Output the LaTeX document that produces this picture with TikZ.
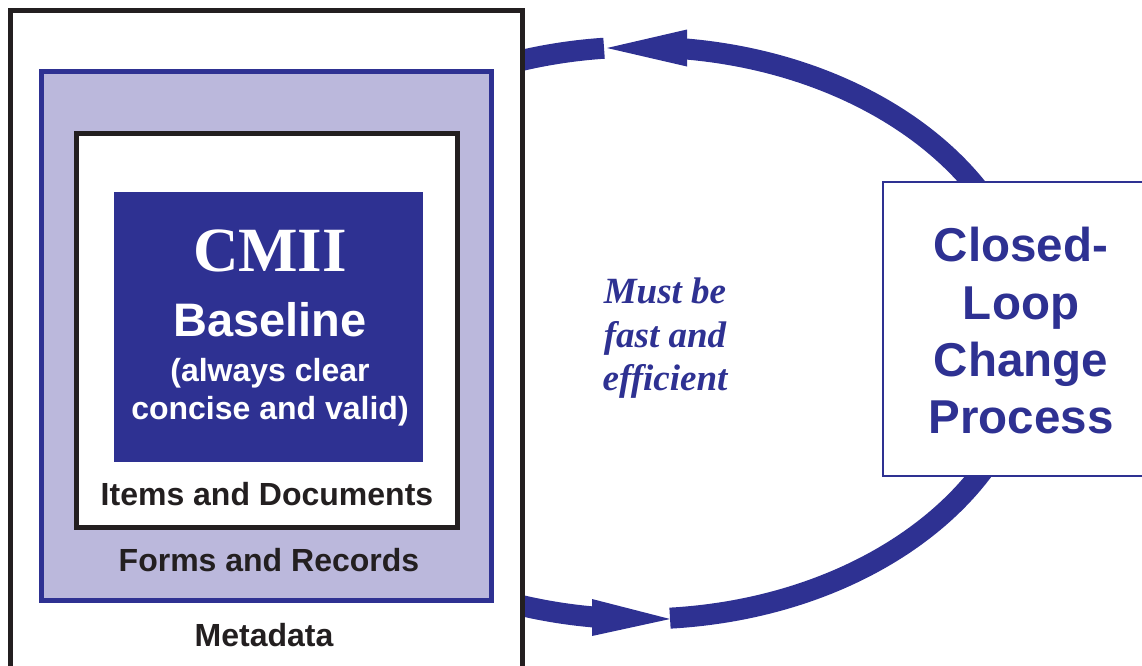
\documentclass[tikz,border=0pt]{standalone}
\usepackage{fontspec}
\setmainfont{Liberation Serif}
\setsansfont{Liberation Sans}
\usetikzlibrary{calc}
\definecolor{cmblue}{HTML}{2E3192}
\definecolor{lav}{HTML}{BBB8DC}
\definecolor{ink}{HTML}{231F20}
\begin{document}
\begin{tikzpicture}[x=1pt,y=-1pt,
  frame/.style={draw=#1,line width=5pt,inner sep=0pt,outer sep=0pt},
  loopline/.style={draw=cmblue,line width=21pt},
  headfill/.style={fill=cmblue},
  sanslbl/.style={font=\sffamily\bfseries\fontsize{32}{38}\selectfont,inner sep=0pt,anchor=base},
  whitelbl/.style={sanslbl,text=white},
  inklbl/.style={sanslbl,text=ink}]
\useasboundingbox (0,0) rectangle (1142,665);
\clip (0,0) rectangle (1142,665);
% closed loop (ellipse centre c, radii 391 x 286)
\coordinate (c) at (640,333);
% bottom shaft: from behind the left box to the lower arrowhead
\draw[loopline] ($(c)+(-115:391pt and 286pt)$)
  arc[start angle=-115,end angle=-96,x radius=391pt,y radius=286pt];
% lower arrowhead (points right)
\coordinate (btip) at (670,619);
\coordinate (bback1) at (592,599);
\coordinate (bback2) at (592,636);
\fill[headfill] (btip) -- (bback1) -- (bback2) -- cycle;
% right-hand shaft: from the lower tip round to the upper arrowhead
\draw[loopline] ($(c)+(-85.6:391pt and 286pt)$)
  arc[start angle=-85.6,end angle=84,x radius=391pt,y radius=286pt];
% upper arrowhead (points left)
\coordinate (ttip) at (607,48);
\coordinate (tback1) at (687,29.5);
\coordinate (tback2) at (687,66.5);
\fill[headfill] (ttip) -- (tback1) -- (tback2) -- cycle;
% upper shaft: from the upper tip back into the left box
\draw[loopline] ($(c)+(95.28:391pt and 286pt)$)
  arc[start angle=95.28,end angle=115,x radius=391pt,y radius=286pt];
% left nested boxes
\node[frame=ink,fill=white,minimum width=512pt,minimum height=690pt] (meta) at (266,355.8) {};
\node[frame=cmblue,fill=lav,minimum width=450pt,minimum height=529pt] (forms) at (266,335.5) {};
\node[frame=ink,fill=white,minimum width=381.5pt,minimum height=394.5pt] (items) at (266.75,330.25) {};
\node[fill=cmblue,inner sep=0pt,minimum width=309pt,minimum height=270pt] (base) at (268.5,327) {};
\node[text=white,font=\bfseries\fontsize{63}{70}\selectfont,inner sep=0pt,anchor=base] (cmii) at (270,271) {CMII};
\node[text=white,font=\sffamily\bfseries\fontsize{47}{56}\selectfont,inner sep=0pt,anchor=base] (bl) at (270,336) {Baseline};
\node[whitelbl] (al1) at (270,381) {(always clear};
\node[whitelbl] (al2) at (270,419) {concise and valid)};
\node[inklbl] (itl) at (267,505) {Items and Documents};
\node[inklbl] (frl) at (269,571) {Forms and Records};
\node[inklbl] (mdl) at (264,646) {Metadata};
% right box
\node[draw=cmblue,line width=2.2pt,fill=white,inner sep=0pt,minimum width=277pt,minimum height=294pt] (clcp) at (1021.5,329) {};
\node[text=cmblue,font=\sffamily\bfseries\fontsize{47.5}{57.4}\selectfont,align=center,inner sep=0pt,anchor=north] (clt) at (1021,227) {Closed-\\Loop\\Change\\Process};
% middle text
\node[text=cmblue,font=\bfseries\itshape\fontsize{37}{43.5}\selectfont,align=center,inner sep=0pt,anchor=north] (fast) at (665,278) {Must be\\fast and\\efficient};
\end{tikzpicture}
\end{document}
